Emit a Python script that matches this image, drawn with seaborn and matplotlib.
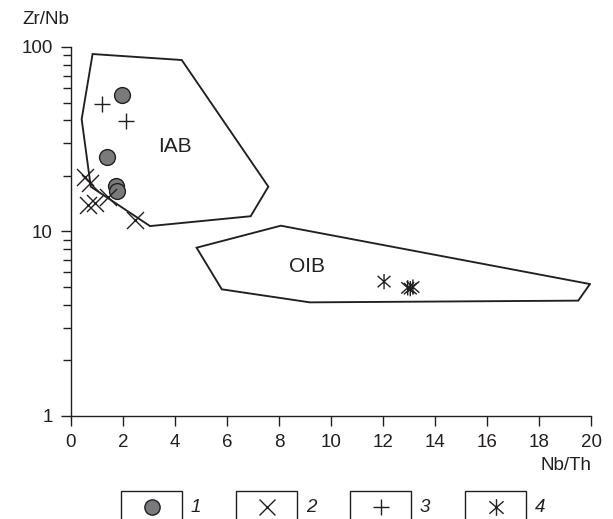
import numpy as np
import pandas as pd
import seaborn as sns
import matplotlib
matplotlib.use("Agg")
import matplotlib.pyplot as plt
from matplotlib.path import Path
from matplotlib.patches import Rectangle
from matplotlib.lines import Line2D
from matplotlib.ticker import FixedLocator, FixedFormatter, LogLocator, NullFormatter

# ---- sample groups (Nb/Th, Zr/Nb) ----
circle_x = [1.96, 1.38, 1.73, 1.77]
circle_y = [55.0, 25.3, 17.6, 16.6]
cross_x = [0.54, 0.73, 0.67, 0.92, 1.43, 2.46]
cross_y = [19.8, 18.3, 13.9, 14.2, 15.4, 11.5]
plus_x = [1.18, 2.10]
plus_y = [48.9, 39.9]
star_x = [12.04, 12.95, 13.05, 13.15]
star_y = [5.35, 4.95, 4.90, 5.00]

# ---- discrimination fields ----
iab_x = [0.83, 4.26, 7.59, 6.91, 3.04, 0.76, 0.41]
iab_y = [91.6, 85.0, 17.5, 12.1, 10.7, 17.5, 40.6]
oib_x = [4.83, 8.07, 19.96, 19.51, 9.19, 5.80]
oib_y = [8.17, 10.75, 5.19, 4.22, 4.13, 4.86]

x_ticks = [0, 2, 4, 6, 8, 10, 12, 14, 16, 18, 20]
y_ticks = [1, 10, 100]
y_tick_labels = ["1", "10", "100"]
legend_labels = ["1", "2", "3", "4"]

sns.set_theme(style="ticks")
plt.rcParams["font.family"] = ["Liberation Sans", "DejaVu Sans"]
INK = "#231f20"
FS = 13.5

# asterisk: vertical bar plus an X
star_path = Path(
    [(0, -1), (0, 1), (-0.85, -0.75), (0.85, 0.75), (-0.85, 0.75), (0.85, -0.75)],
    [Path.MOVETO, Path.LINETO, Path.MOVETO, Path.LINETO, Path.MOVETO, Path.LINETO],
)

fig = plt.figure(figsize=(6.13, 5.19), dpi=100)
W, H = 613, 519
ax = fig.add_axes([71 / W, 1 - 416 / H, 520 / W, 369 / H])

# fields
for fx, fy in [(iab_x, iab_y), (oib_x, oib_y)]:
    ax.fill(fx + fx[:1], fy + fy[:1], facecolor="none", edgecolor=INK, lw=1.35, zorder=3)

df_c = pd.DataFrame({"x": circle_x, "y": circle_y})
df_x = pd.DataFrame({"x": cross_x, "y": cross_y})
df_p = pd.DataFrame({"x": plus_x, "y": plus_y})
df_s = pd.DataFrame({"x": star_x, "y": star_y})

sns.scatterplot(data=df_c, x="x", y="y", ax=ax, marker="o", s=130,
                color="#7a7a7c", edgecolor=INK, linewidth=1.0, zorder=4)
sns.scatterplot(data=df_x, x="x", y="y", ax=ax, marker="x", s=150,
                color=INK, linewidth=1.0, zorder=4)
sns.scatterplot(data=df_p, x="x", y="y", ax=ax, marker="+", s=130,
                color=INK, linewidth=1.0, zorder=4)
sns.scatterplot(data=df_s, x="x", y="y", ax=ax, marker=star_path, s=120,
                facecolor="none", edgecolor=INK, linewidth=1.0, zorder=4)

ax.text(4.0, 29, "IAB", fontsize=15, color=INK, ha="center", va="center")
ax.text(9.08, 6.5, "OIB", fontsize=15, color=INK, ha="center", va="center")

ax.set_yscale("log")
ax.set_xlim(0, 20)
ax.set_ylim(1, 100)
ax.xaxis.set_major_locator(FixedLocator(x_ticks))
ax.set_xticklabels([str(t) for t in x_ticks])
ax.yaxis.set_major_locator(FixedLocator(y_ticks))
ax.yaxis.set_major_formatter(FixedFormatter(y_tick_labels))
ax.yaxis.set_minor_locator(LogLocator(base=10, subs=np.arange(2, 10)))
ax.yaxis.set_minor_formatter(NullFormatter())
ax.tick_params(axis="both", which="major", direction="out", length=7, width=1.0,
               color=INK, labelcolor=INK, labelsize=FS, pad=6)
ax.tick_params(axis="y", which="minor", direction="out", length=6, width=1.0, color=INK)

for side in ["top", "right"]:
    ax.spines[side].set_visible(False)
for side in ["left", "bottom"]:
    ax.spines[side].set_color(INK)
    ax.spines[side].set_linewidth(1.0)

ax.set_xlabel("")
ax.set_ylabel("")
fig.text(46 / W, 1 - 20 / H, "Zr/Nb", fontsize=FS, color=INK, ha="center", va="center")
fig.text(592 / W, 1 - 466 / H, "Nb/Th", fontsize=FS, color=INK, ha="right", va="center")

# key boxes along the bottom
box_left = [121, 236, 350, 465]
box_w = 61
box_top = 491
key_markers = [("o", "#7a7a7c", 11), ("x", "none", 12), ("+", "none", 11), (star_path, "none", 12)]
for left, (mk, fc, ms), lab in zip(box_left, key_markers, legend_labels):
    fig.add_artist(Rectangle((left / W, 1 - 540 / H), box_w / W, (540 - box_top) / H,
                             transform=fig.transFigure, facecolor="none",
                             edgecolor=INK, lw=1.0))
    cx = (left + box_w / 2) / W
    cy = 1 - 507 / H
    fig.add_artist(Line2D([cx], [cy], transform=fig.transFigure, marker=mk,
                          markersize=ms, markerfacecolor=fc, markeredgecolor=INK,
                          markeredgewidth=1.0, linestyle="none", color=INK))
    fig.text((left + box_w + 9) / W, cy, lab, fontsize=FS, style="italic",
             color=INK, ha="left", va="center")

fig.savefig("out.png", dpi=100)
